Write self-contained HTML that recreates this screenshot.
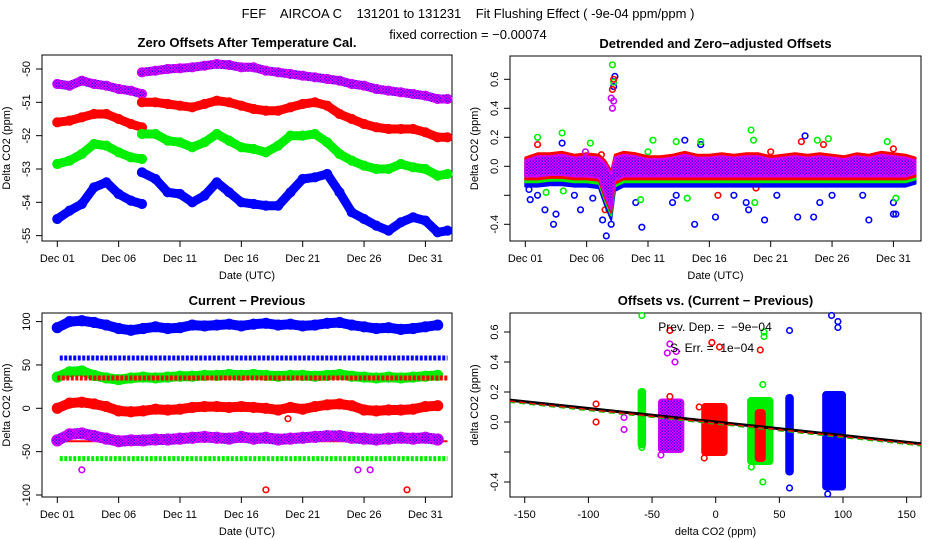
<!DOCTYPE html>
<html><head><meta charset="utf-8"><style>
html,body{margin:0;padding:0;background:#fff}
svg{display:block;font-family:"Liberation Sans",sans-serif}
</style></head><body>
<svg id="c" width="936" height="540" viewBox="0 0 936 540">
<defs>
<pattern id="pp" width="3" height="3" patternUnits="userSpaceOnUse"><rect width="3" height="3" fill="#ff00ff"/><rect width="1.5" height="1.5" fill="#6a00ff"/><rect x="1.5" y="1.5" width="1.5" height="1.5" fill="#3300ee"/></pattern>
</defs>
<text x="468" y="18" text-anchor="middle" font-size="13" style="white-space:pre">FEF    AIRCOA C    131201 to 131231    Fit Flushing Effect ( -9e-04 ppm/ppm )</text>
<text x="468" y="39" text-anchor="middle" font-size="13">fixed correction = −0.00074</text>
</svg>
<script>
// ---------- DATA ----------
const p1Days1 = [0,1,2,3,4,5,6,6.9];
const p1Days2 = [6.9,8,9,10,11,12,13,14,15,16,17,18,19,20,21,22,23,24,25,26,27,28,29,30,31,31.8];
const p1Purple1 = [-50.45,-50.5,-50.35,-50.45,-50.5,-50.6,-50.65,-50.75];
const p1Purple2 = [-50.1,-50.05,-50.0,-49.98,-49.95,-49.9,-49.85,-49.88,-49.95,-49.95,-50.05,-50.1,-50.15,-50.2,-50.25,-50.3,-50.35,-50.45,-50.5,-50.6,-50.65,-50.7,-50.75,-50.8,-50.9,-50.9];
const p1Red1 = [-51.6,-51.55,-51.45,-51.35,-51.35,-51.5,-51.65,-51.75];
const p1Red2 = [-51.0,-51.0,-51.05,-51.1,-51.15,-51.05,-50.95,-51.0,-51.1,-51.2,-51.25,-51.25,-51.15,-51.05,-51.0,-51.1,-51.35,-51.5,-51.65,-51.75,-51.8,-51.8,-51.8,-51.9,-52.05,-52.05];
const p1Green1 = [-52.85,-52.75,-52.55,-52.25,-52.3,-52.5,-52.65,-52.7];
const p1Green2 = [-51.95,-51.95,-52.15,-52.2,-52.35,-52.2,-51.95,-52.15,-52.35,-52.4,-52.5,-52.3,-52.0,-52.0,-51.95,-52.2,-52.55,-52.75,-52.9,-53.0,-53.0,-52.85,-52.95,-53.0,-53.2,-53.15];
const p1Blue1 = [-54.5,-54.25,-54.05,-53.55,-53.4,-53.75,-53.95,-54.05];
const p1Blue2 = [-53.1,-53.3,-53.7,-53.75,-54.0,-53.8,-53.4,-53.7,-54.0,-54.05,-54.1,-54.1,-53.7,-53.3,-53.25,-53.15,-53.7,-54.3,-54.5,-54.7,-54.85,-54.6,-54.45,-54.55,-54.9,-54.85];
const p1YTicks = [-50,-51,-52,-53,-54,-55];
const dayTicks = [0,5,10,15,20,25,30];
const dayTickLabels = ["Dec 01","Dec 06","Dec 11","Dec 16","Dec 21","Dec 26","Dec 31"];

const p2Days = [0,1,2,3,4,5,6,6.5,7,7.3,8,9,10,11,12,13,14,15,16,17,18,19,20,21,22,23,24,25,26,27,28,29,30,31,31.8];
const p2BandLow = [-0.07,-0.07,-0.06,-0.06,-0.07,-0.07,-0.08,-0.2,-0.3,-0.1,-0.07,-0.07,-0.07,-0.07,-0.07,-0.07,-0.07,-0.07,-0.07,-0.07,-0.07,-0.07,-0.07,-0.07,-0.07,-0.07,-0.07,-0.07,-0.07,-0.07,-0.07,-0.07,-0.07,-0.07,-0.05];
const p2BandHigh = [0.04,0.07,0.07,0.08,0.06,0.07,0.06,0.02,-0.05,0.06,0.08,0.07,0.05,0.05,0.06,0.08,0.06,0.06,0.07,0.06,0.07,0.07,0.05,0.06,0.07,0.06,0.07,0.06,0.05,0.07,0.06,0.08,0.07,0.06,0.04];
const p2BlueOut = [[0.3,-0.16],[0.4,-0.23],[1,-0.2],[1.6,-0.3],[2.3,-0.4],[2.5,-0.33],[4,-0.2],[4.5,-0.3],[5.5,-0.22],[6.3,-0.37],[6.6,-0.48],[7,-0.4],[7.3,0.62],[7.2,0.55],[9,-0.25],[9.5,-0.42],[12,-0.25],[13,0.18],[13.8,-0.4],[14.3,0.15],[15.5,-0.35],[17,-0.2],[18,-0.25],[18.2,-0.3],[19.5,-0.37],[20.5,-0.2],[22.2,-0.35],[22.8,0.21],[23.5,-0.35],[24,-0.25],[27.5,-0.2],[28,-0.37],[30,-0.25],[30,-0.33],[30.2,-0.33],[3,0.16],[12.3,-0.2],[25,-0.2]];
const p2GreenOut = [[1,0.2],[3,0.23],[5.3,0.16],[6.8,-0.3],[7.1,0.7],[7.2,0.58],[10,0.1],[10.4,0.18],[12.3,0.17],[13.2,-0.22],[14.3,0.17],[18.4,0.25],[18.6,0.18],[18.7,-0.25],[23.8,0.18],[24.7,0.19],[29.5,0.17],[30.2,-0.22],[1.7,-0.18],[3.1,-0.17],[9.4,-0.23]];
const p2RedOut = [[1,0.15],[7.1,0.53],[7.2,0.6],[6.5,-0.3],[15.7,-0.2],[18.8,-0.15],[22.5,0.17],[24.3,0.15],[20,0.1],[30,0.12],[6.2,0.08]];
const p2PurpleOut = [[7.1,0.4],[7,0.47],[7.2,0.45],[4.9,0.1]];
const p2YTicks = [0.6,0.4,0.2,0,-0.2,-0.4];
const p2YLabels = ["0.6","0.4","0.2","0.0","","-0.4"];

const p3Days = [0,1,2,3,4,5,6,7,8,9,10,11,12,13,14,15,16,17,18,19,20,21,22,23,24,25,26,27,28,29,30,31];
const p3Blue = [93,100,101,99,96,92,90,92,94,92,93,96,95,96,97,95,97,98,96,97,95,96,98,99,96,94,92,93,91,92,94,96];
const p3Green = [36,42,43,38,35,33,35,36,35,36,37,37,38,38,39,38,39,38,37,38,38,37,38,39,37,36,35,36,35,36,37,38];
const p3Red = [0,6,7,5,2,-3,-4,-3,-1,-2,-1,1,2,2,1,2,1,0,-2,1,-1,2,4,5,3,-2,-3,-2,-2,-1,2,3];
const p3Purple = [-37,-30,-29,-32,-35,-38,-37,-37,-36,-36,-35,-34,-33,-34,-35,-33,-35,-34,-36,-35,-34,-33,-32,-32,-34,-35,-36,-35,-34,-35,-34,-36];
const p3BlueLevel = 58, p3RedLevel = 35, p3RedLow = -38, p3GreenLevel = -58;
const p3Outliers = [[2,-71,"#cc00ff"],[24.5,-71,"#cc00ff"],[25.5,-71,"#cc00ff"],[17,-94,"#ff0000"],[28.5,-94,"#ff0000"],[18.8,-12,"#ff0000"]];
const p3YTicks = [100,50,0,-50,-100];

const p4Center = [-58,-35,-1,35,35,58,93];
const p4HalfWidth = [1,8,8,8,2,1,7];
const p4Low = [-0.17,-0.2,-0.22,-0.28,-0.26,-0.35,-0.45];
const p4High = [0.22,0.15,0.12,0.16,0.08,0.18,0.2];
const p4Colors = ["#00ee00","url(#pp)","#ff0000","#00ee00","#ff0000","#0000ff","#0000ff"];
const p4Out = [[-58,0.71,"#00ee00"],[-58,-0.17,"#00ee00"],[37,0.25,"#00ee00"],[38,0.6,"#00ee00"],[38,0.57,"#00ee00"],[37,-0.4,"#00ee00"],[28,-0.3,"#00ee00"],[-94,0.12,"#ff0000"],[-94,0,"#ff0000"],[-36,0.61,"#ff0000"],[-3,0.53,"#ff0000"],[3,0.5,"#ff0000"],[35,0.48,"#ff0000"],[-36,0.17,"#ff0000"],[-13,0.1,"#ff0000"],[-72,0.03,"#cc00ff"],[-72,-0.05,"#cc00ff"],[-36,0.52,"#cc00ff"],[-31,0.47,"#cc00ff"],[-38,0.46,"#cc00ff"],[-32,0.4,"#cc00ff"],[58,0.61,"#0000ff"],[58,-0.44,"#0000ff"],[91,0.71,"#0000ff"],[96,0.67,"#0000ff"],[96,0.63,"#0000ff"],[88,-0.48,"#0000ff"],[-8,-0.2,"#ff0000"],[-9,-0.24,"#ff0000"],[-43,-0.22,"#cc00ff"]];
const p4Slope = -0.0009, p4Intercept = 0.0;
const p4XTicks = [-150,-100,-50,0,50,100,150];
const p4YTicks = [0.6,0.4,0.2,0,-0.2,-0.4];

// ---------- HELPERS ----------
const svg = document.getElementById('c');
const NS = 'http://www.w3.org/2000/svg';
function mk(tag, attrs, parent){ const e=document.createElementNS(NS,tag); for(const k in attrs) e.setAttribute(k,attrs[k]); (parent||svg).appendChild(e); return e; }
function txt(x,y,s,size,extra,parent){ const t=mk('text',Object.assign({x:x,y:y,'font-size':size},extra||{}),parent); t.textContent=s; return t; }

function panel(name, box, title, xlabel, ylabel){
  const g = mk('g',{});
  
  
  const r = mk('rect',{x:box.x0,y:box.y0,width:box.x1-box.x0,height:box.y1-box.y0,fill:'none',stroke:'#000','stroke-width':1},g);
  
  
  const t = txt((box.x0+box.x1)/2, box.y0-8, title, 13, {'text-anchor':'middle','font-weight':'bold'}, g);
  
  
  const xl = txt((box.x0+box.x1)/2, box.y1+38, xlabel, 11, {'text-anchor':'middle'}, g);
  
  
  const cy=(box.y0+box.y1)/2, cx=box.x0-32;
  const yl = txt(cx, cy, ylabel, 11, {'text-anchor':'middle',transform:'rotate(-90 '+cx+' '+cy+')'}, g);
  
  
  return g;
}
function xAxis(g, box, vals, labels, sx){
  const a = mk('g',{},g);
  
  
  mk('line',{x1:sx(vals[0]),x2:sx(vals[vals.length-1]),y1:box.y1,y2:box.y1,stroke:'#000'},a);
  vals.forEach((v,i)=>{
    mk('line',{x1:sx(v),x2:sx(v),y1:box.y1,y2:box.y1+6,stroke:'#000'},a);
    const t = txt(sx(v), box.y1+21, labels[i], 11, {'text-anchor':'middle'}, a);
    
    
  });
}
function yAxis(g, box, vals, labels, sy){
  const a = mk('g',{},g);
  
  
  mk('line',{x1:box.x0,x2:box.x0,y1:sy(vals[0]),y2:sy(vals[vals.length-1]),stroke:'#000'},a);
  vals.forEach((v,i)=>{
    const y=sy(v);
    mk('line',{x1:box.x0-6,x2:box.x0,y1:y,y2:y,stroke:'#000'},a);
    const x=box.x0-12;
    const t = txt(x, y, labels[i], 11, {'text-anchor':'middle',transform:'rotate(-90 '+x+' '+y+')'}, a);
    
    
  });
}
function band(g, days, vals, sx, sy, color, w, name){
  const d = days.map((t,i)=>(i?'L':'M')+sx(t).toFixed(1)+' '+sy(vals[i]).toFixed(1)).join(' ');
  const p = mk('path',{d:d,fill:'none',stroke:color,'stroke-width':w,'stroke-linejoin':'round','stroke-linecap':'round'},g);
  
  
  days.forEach((t,i)=>{
    const c = mk('circle',{cx:sx(t),cy:sy(vals[i]),r:w/2,fill:'none',stroke:color==='url(#pp)'?'#cc00ff':color,'stroke-width':1.2},g);
    
    
  });
}
function pts(g, arr, sx, sy, color, name){
  arr.forEach(p=>{
    const c = mk('circle',{cx:sx(p[0]),cy:sy(p[1]),r:2.8,fill:'none',stroke:p[2]||color,'stroke-width':1.6},g);
    
    
  });
}

// ---------- PANEL 1 ----------
{
  const box={x0:42,x1:452,y0:55,y1:241};
  const sx=d=>57.3+d*12.27, sy=v=>69+(-50-v)*33.33;
  const g=panel('zero-offsets-panel',box,'Zero Offsets After Temperature Cal.','Date (UTC)','Delta CO2 (ppm)');
  xAxis(g,box,dayTicks,dayTickLabels,sx);
  yAxis(g,box,p1YTicks,p1YTicks.map(String),sy);
  band(g,p1Days1,p1Purple1,sx,sy,'url(#pp)',9,'purple-series');
  band(g,p1Days2,p1Purple2,sx,sy,'url(#pp)',9,'purple-series');
  band(g,p1Days1,p1Red1,sx,sy,'#ff0000',9,'red-series');
  band(g,p1Days2,p1Red2,sx,sy,'#ff0000',9,'red-series');
  band(g,p1Days1,p1Green1,sx,sy,'#00ee00',9,'green-series');
  band(g,p1Days2,p1Green2,sx,sy,'#00ee00',9,'green-series');
  band(g,p1Days1,p1Blue1,sx,sy,'#0000ff',9,'blue-series');
  band(g,p1Days2,p1Blue2,sx,sy,'#0000ff',9,'blue-series');
}

// ---------- PANEL 2 ----------
{
  const box={x0:510,x1:921,y0:56,y1:241};
  const sx=d=>525.3+d*12.27, sy=v=>166.3-v*145;
  const g=panel('detrended-panel',box,'Detrended and Zero−adjusted Offsets','Date (UTC)','Delta CO2 (ppm)');
  xAxis(g,box,dayTicks,dayTickLabels,sx);
  yAxis(g,box,p2YTicks,p2YLabels,sy);
  const layers=[['#0000ff',-0.07,-0.02,'blue-band'],['#00ee00',-0.04,0.01,'green-band'],['#ff0000',-0.02,0.02,'red-band'],['url(#pp)',0,0,'purple-band']];
  pts(g,p2BlueOut,sx,sy,'#0000ff','blue-outlier');
  pts(g,p2GreenOut,sx,sy,'#00ee00','green-outlier');
  pts(g,p2RedOut,sx,sy,'#ff0000','red-outlier');
  layers.forEach(L=>{
    const up=p2Days.map((t,i)=>sx(t).toFixed(1)+','+sy(p2BandHigh[i]+L[2]).toFixed(1));
    const dn=p2Days.map((t,i)=>sx(t).toFixed(1)+','+sy(p2BandLow[i]+L[1]).toFixed(1)).reverse();
    const p=mk('polygon',{points:up.concat(dn).join(' '),fill:L[0],stroke:L[0]==='url(#pp)'?'#cc00ff':L[0],'stroke-width':2,'stroke-linejoin':'round'},g);
    
    
  });
  pts(g,p2PurpleOut,sx,sy,'#cc00ff','purple-outlier');
}

// ---------- PANEL 3 ----------
{
  const box={x0:42,x1:452,y0:313,y1:497};
  const sx=d=>57.3+d*12.27, sy=v=>408.3-v*0.867;
  const g=panel('current-previous-panel',box,'Current − Previous','Date (UTC)','Delta CO2 (ppm)');
  xAxis(g,box,dayTicks,dayTickLabels,sx);
  yAxis(g,box,p3YTicks,p3YTicks.map(String),sy);
  const levels=[[p3BlueLevel,'#0000ff','blue-constant'],[p3GreenLevel,'#00ee00','green-constant']];
  levels.forEach(L=>{
    const l=mk('line',{x1:sx(0.2),x2:sx(31.8),y1:sy(L[0]),y2:sy(L[0]),stroke:L[1],'stroke-width':5,'stroke-dasharray':'3 1.5'},g);
    
    
  });
  band(g,p3Days,p3Blue,sx,sy,'#0000ff',10,'blue-series');
  band(g,p3Days,p3Green,sx,sy,'#00ee00',10,'green-series');
  const rl=mk('line',{x1:sx(0),x2:sx(31.8),y1:sy(p3RedLevel),y2:sy(p3RedLevel),stroke:'#ff0000','stroke-width':5,'stroke-dasharray':'3 1.5'},g);
  
  
  band(g,p3Days,p3Red,sx,sy,'#ff0000',10,'red-series');
  const rl2=mk('line',{x1:sx(0),x2:sx(31.8),y1:sy(p3RedLow),y2:sy(p3RedLow),stroke:'#ff0000','stroke-width':2},g);
  
  
  band(g,p3Days,p3Purple,sx,sy,'url(#pp)',11,'purple-series');
  pts(g,p3Outliers,sx,sy,'#f00','outlier');
}

// ---------- PANEL 4 ----------
{
  const box={x0:510,x1:921,y0:313,y1:497};
  const sx=v=>715.7+v*1.273, sy=v=>422-v*150;
  const g=panel('offsets-vs-diff-panel',box,'Offsets vs. (Current − Previous)','delta CO2 (ppm)','delta CO2 (ppm)');
  xAxis(g,box,p4XTicks,p4XTicks.map(String),sx);
  yAxis(g,box,p4YTicks,["0.6","0.4","0.2","0.0","","-0.4"],sy);
  p4Center.forEach((c,i)=>{
    const r=mk('rect',{x:sx(c-p4HalfWidth[i])-2,y:sy(p4High[i]),width:sx(c+p4HalfWidth[i])-sx(c-p4HalfWidth[i])+4,height:sy(p4Low[i])-sy(p4High[i]),rx:3,fill:p4Colors[i],stroke:p4Colors[i]==='url(#pp)'?'#cc00ff':p4Colors[i],'stroke-width':2},g);
    
    
  });
  pts(g,p4Out,sx,sy,'#000','outlier');
  const clip=mk('clipPath',{id:'cp4'},g); mk('rect',{x:box.x0,y:box.y0,width:box.x1-box.x0,height:box.y1-box.y0},clip);
  const fx=[-170,170];
  const fl=mk('line',{x1:sx(fx[0]),x2:sx(fx[1]),y1:sy(p4Intercept+p4Slope*fx[0]),y2:sy(p4Intercept+p4Slope*fx[1]),stroke:'#000','stroke-width':3,'clip-path':'url(#cp4)'},g);
  
  
  const gl=mk('line',{x1:sx(fx[0]),x2:sx(fx[1]),y1:sy(p4Intercept+p4Slope*fx[0])+2,y2:sy(p4Intercept+p4Slope*fx[1])+2,stroke:'#00cc00','stroke-width':1.5,'stroke-dasharray':'6 4','clip-path':'url(#cp4)'},g);
  
  
  const rdl=mk('line',{x1:sx(fx[0]),x2:sx(fx[1]),y1:sy(p4Intercept+p4Slope*fx[0])+1,y2:sy(p4Intercept+p4Slope*fx[1])+1,stroke:'#ff0000','stroke-width':1.5,'stroke-dasharray':'6 4','clip-path':'url(#cp4)'},g);
  
  
  const a1=txt(715,331,'Prev. Dep. =  −9e−04',12,{'text-anchor':'middle',style:'white-space:pre'},g);
  
  
  const a2=txt(712,352,'S. Err. =  1e−04',12,{'text-anchor':'middle',style:'white-space:pre'},g);
  
  
}
</script>
</body></html>
